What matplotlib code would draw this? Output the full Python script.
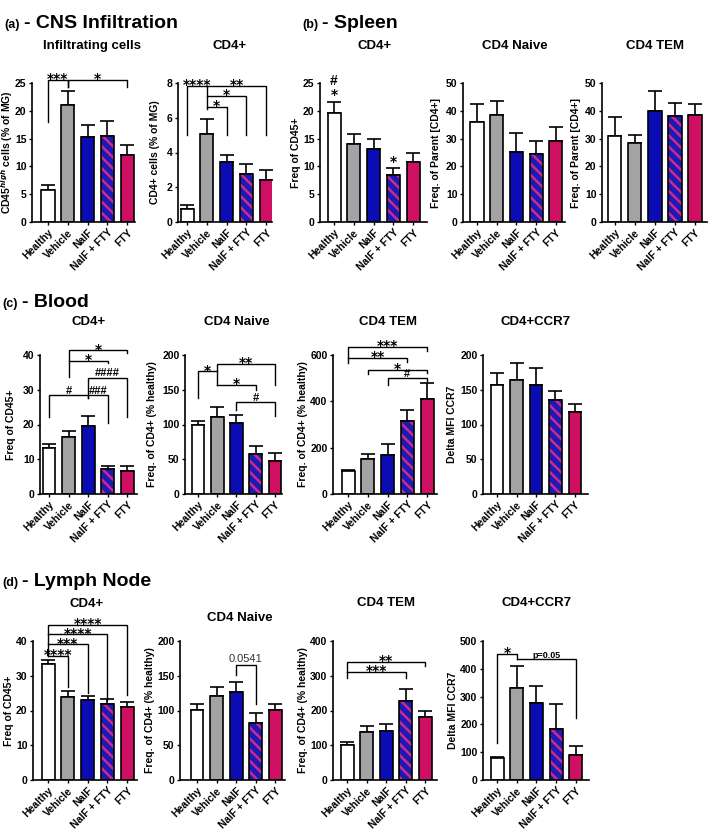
import numpy as np
import matplotlib
matplotlib.use("Agg")
import matplotlib.pyplot as plt

plt.rcParams['font.family'] = ['Liberation Sans', 'DejaVu Sans']
plt.rcParams['font.weight'] = 'bold'
plt.rcParams['axes.labelweight'] = 'bold'
plt.rcParams['mathtext.fontset'] = 'custom'
plt.rcParams['mathtext.rm'] = 'Liberation Sans:bold'
plt.rcParams['mathtext.bf'] = 'Liberation Sans:bold'
plt.rcParams['hatch.linewidth'] = 1.8

groups = ["Healthy", "Vehicle", "NaIF", "NaIF + FTY", "FTY"]
bar_colors = ["white", "#a3a3a6", "#0c0cb4", "#1a1ab4", "#cf0f62"]
stripe_color = "#d0288c"

# (a) CNS infiltration
cns_infil_mean = [5.8, 21.1, 15.3, 15.4, 12.1]
cns_infil_sem = [0.9, 2.4, 2.2, 2.8, 1.8]
cns_cd4_mean = [0.75, 5.05, 3.45, 2.75, 2.42]
cns_cd4_sem = [0.25, 0.9, 0.4, 0.6, 0.58]

# (b) spleen
spl_cd4_mean = [19.6, 14.0, 13.2, 8.4, 10.8]
spl_cd4_sem = [1.9, 1.8, 1.7, 1.4, 1.7]
spl_naive_mean = [35.9, 38.6, 25.1, 24.5, 29.3]
spl_naive_sem = [6.6, 4.8, 6.8, 4.8, 4.8]
spl_tem_mean = [30.8, 28.5, 39.8, 38.2, 38.6]
spl_tem_sem = [6.8, 2.9, 7.2, 4.6, 3.8]

# (c) blood
bl_cd4_mean = [13.1, 16.4, 19.5, 7.3, 6.6]
bl_cd4_sem = [1.4, 1.6, 3.0, 0.9, 1.6]
bl_naive_mean = [99.8, 110.8, 102.2, 58.0, 48.0]
bl_naive_sem = [4.8, 13.9, 11.0, 10.6, 11.0]
bl_tem_mean = [97.6, 152, 168, 317, 412]
bl_tem_sem = [7, 20, 47, 46, 66]
bl_ccr7_mean = [157.3, 164.5, 157.3, 134.8, 118.0]
bl_ccr7_sem = [16.7, 24.0, 24.0, 13.9, 11.5]

# (d) lymph node
ln_cd4_mean = [33.4, 24.0, 23.0, 21.8, 21.1]
ln_cd4_sem = [1.1, 1.7, 1.3, 1.4, 1.4]
ln_naive_mean = [100.7, 120.9, 127.1, 82.5, 100.7]
ln_naive_sem = [8.7, 13.4, 13.9, 14.4, 8.1]
ln_tem_mean = [100, 137, 141, 228.6, 181]
ln_tem_sem = [9.5, 19, 21, 33.4, 19]
ln_ccr7_mean = [78, 330, 276, 182, 90]
ln_ccr7_sem = [6, 81.5, 63, 91, 34]

# significance brackets: (group1, group2, level, leg1 end, leg2 end, label)
cns_infil_sig = [(0, 1, 25.6, 18.0, 24.3, '***'), (1, 4, 25.6, 24.3, 24.3, '*')]
cns_cd4_sig = [(0, 1, 7.85, 5.0, 7.85, '****'), (1, 4, 7.85, 6.5, 5.0, '**'),
               (1, 3, 7.24, 7.24, 5.0, '*'), (1, 2, 6.62, 6.62, 5.0, '*')]
spl_cd4_marks = [(0, 24.4, '#'), (0, 22.7, '*'), (3, 10.6, '*')]
bl_cd4_sig = [(1, 4, 41.3, 33.6, 40.7, '*'), (1, 3, 38.3, 38.3, 37.6, '*'),
              (2, 4, 33.5, 27.5, 22.3, '####'), (2, 3, 28.4, 28.4, 20.4, '###'),
              (0, 2, 28.4, 22.3, 27.5, '#')]
bl_naive_sig = [(0, 1, 176.5, 137.6, 176.5, '*'), (1, 4, 187.5, 157.3, 157.3, '**'),
                (1, 3, 157.3, 157.3, 150, '*'), (2, 4, 131.9, 121.3, 111.7, '#')]
bl_tem_sig = [(0, 4, 636, 564, 619, '***'), (0, 3, 586, 586, 571, '**'),
              (1, 4, 535, 518, 524, '*'), (2, 4, 502, 471, 488, '#')]
ln_cd4_sig = [(0, 4, 44.6, 35.7, 24.5, '****'), (0, 3, 41.9, 41.9, 23.0, '****'),
              (0, 2, 39.0, 39.0, 24.9, '***'), (0, 1, 35.7, 35.7, 26.7, '****')]
ln_naive_sig = [(2, 3, 165.5, 151, 110, '0.0541')]
ln_tem_sig = [(0, 4, 341, 293, 328.6, '**'), (0, 3, 312, 312, 293, '***')]
ln_ccr7_sig = [(0, 1, 453, 132, 434, '*'), (1, 4, 434, 434, 222, 'p=0.05')]

W, H = 709, 836
fig = plt.figure(figsize=(W / 100, H / 100), dpi=100)

# panel: mean, sem, yticks, ylabel, title,
# (spine x, end x, top y, zero y, title x, title y, ylabel x) in pixels, xlim, sig, marks
panels = [
    (cns_infil_mean, cns_infil_sem, [0, 5, 10, 15, 20, 25], r"CD45$^{high}$ cells (% of MG)",
     "Infiltrating cells", (32, 135, 83, 222, 92, 46, 7), (-0.81, 4.4), cns_infil_sig, []),
    (cns_cd4_mean, cns_cd4_sem, [0, 2, 4, 6, 8], "CD4+ cells (% of MG)",
     "CD4+", (178, 272, 83, 222, 230, 46, 155), (-0.46, 4.3), cns_cd4_sig, []),
    (spl_cd4_mean, spl_cd4_sem, [0, 5, 10, 15, 20, 25], "Freq of CD45+",
     "CD4+", (320, 427, 83, 222, 375, 46, 296), (-0.71, 4.7), [], spl_cd4_marks),
    (spl_naive_mean, spl_naive_sem, [0, 10, 20, 30, 40, 50], "Freq. of Parent [CD4+]",
     "CD4 Naive", (463, 565, 83, 222, 515, 46, 436), (-0.71, 4.46), [], []),
    (spl_tem_mean, spl_tem_sem, [0, 10, 20, 30, 40, 50], "Freq. of Parent [CD4+]",
     "CD4 TEM", (602, 707, 83, 222, 655, 46, 576), (-0.64, 4.6), [], []),
    (bl_cd4_mean, bl_cd4_sem, [0, 10, 20, 30, 40], "Freq of CD45+",
     "CD4+", (40, 137, 355, 494, 89, 322, 11), (-0.46, 4.5), bl_cd4_sig, []),
    (bl_naive_mean, bl_naive_sem, [0, 50, 100, 150, 200], "Freq. of CD4+ (% healthy)",
     "CD4 Naive", (185, 282, 355, 494, 237, 322, 152), (-0.67, 4.36), bl_naive_sig, []),
    (bl_tem_mean, bl_tem_sem, [0, 200, 400, 600], "Freq. of CD4+ (% healthy)",
     "CD4 TEM", (333, 437, 355, 494, 388, 322, 303), (-0.76, 4.5), bl_tem_sig, []),
    (bl_ccr7_mean, bl_ccr7_sem, [0, 50, 100, 150, 200], "Delta MFI CCR7",
     "CD4+CCR7", (483, 588, 355, 494, 536, 322, 452), (-0.72, 4.67), [], []),
    (ln_cd4_mean, ln_cd4_sem, [0, 10, 20, 30, 40], "Freq of CD45+",
     "CD4+", (33, 137, 641, 780, 87, 604, 9), (-0.76, 4.5), ln_cd4_sig, []),
    (ln_naive_mean, ln_naive_sem, [0, 50, 100, 150, 200], "Freq. of CD4+ (% healthy)",
     "CD4 Naive", (180, 285, 641, 780, 240, 618, 150), (-0.87, 4.5), ln_naive_sig, []),
    (ln_tem_mean, ln_tem_sem, [0, 100, 200, 300, 400], "Freq. of CD4+ (% healthy)",
     "CD4 TEM", (333, 437, 641, 780, 386, 603, 303), (-0.72, 4.6), ln_tem_sig, []),
    (ln_ccr7_mean, ln_ccr7_sem, [0, 100, 200, 300, 400, 500], "Delta MFI CCR7",
     "CD4+CCR7", (483, 589, 641, 780, 537, 603, 453), (-0.71, 4.66), ln_ccr7_sig, []),
]


def put_label(ax, x, y, s, big=False):
    if '*' in s:
        kw = dict(fontsize=10, fontweight='bold', color='black', family='DejaVu Sans'); off = -2.3
    elif '#' in s:
        kw = dict(fontsize=10 if big else 8, fontweight='bold', color='black'); off = 0.8
    elif s.startswith('p='):
        kw = dict(fontsize=6.5, fontweight='bold', color='black'); off = 0.8
    else:
        kw = dict(fontsize=8, fontweight='normal', color='#333333'); off = 2.4
    ax.annotate(s, (x, y), xytext=(0, off), textcoords='offset points',
                ha='center', va='baseline', annotation_clip=False, **kw)


x = np.arange(len(groups))
for mean, sem, yticks, ylabel, title, box, xlim, sig, marks in panels:
    x0, x1, ytop, ybot, tx, ty, lx = box
    ax = fig.add_axes([x0 / W, 1 - ybot / H, (x1 - x0) / W, (ybot - ytop) / H])
    for i in range(len(groups)):
        if i == 3:
            ax.bar(i, mean[i], width=0.66, color=bar_colors[i], edgecolor=stripe_color,
                   hatch='\\\\\\', linewidth=0, zorder=2)
            ax.bar(i, mean[i], width=0.66, fill=False, edgecolor='black', linewidth=1.2, zorder=3)
        else:
            ax.bar(i, mean[i], width=0.66, color=bar_colors[i], edgecolor='black',
                   linewidth=1.2, zorder=2)
    ax.errorbar(x, mean, yerr=[np.zeros(len(sem)), sem], fmt='none', ecolor='black',
                elinewidth=1.2, capsize=5, capthick=1.2, zorder=1)
    ax.set_xlim(*xlim)
    ax.set_ylim(yticks[0], yticks[-1])
    ax.set_yticks(yticks)
    ax.set_xticks(x)
    ax.set_xticklabels(groups, rotation=45, ha='right', rotation_mode='anchor', fontsize=7.5)
    for t in ax.get_yticklabels():
        t.set_fontsize(7.5)
    ax.tick_params(direction='out', length=2.5, width=1.0, pad=1.5)
    for side in ['top', 'right']:
        ax.spines[side].set_visible(False)
    for side in ['left', 'bottom']:
        ax.spines[side].set_linewidth(1.2)
    ax.set_ylabel(ylabel, fontsize=7.5, va='center')
    ax.yaxis.set_label_coords((lx - x0) / (x1 - x0), 0.5)
    fig.text(tx / W, 1 - ty / H, title, ha='center', va='center', fontsize=9.5, fontweight='bold')

    for g1, g2, lev, e1, e2, s in sig:
        ax.plot([g1, g1, g2, g2], [e1, lev, lev, e2], color='black', lw=1.0,
                clip_on=False, solid_joinstyle='miter', zorder=4)
        put_label(ax, (g1 + g2) / 2, lev, s)
    for g, lev, s in marks:
        put_label(ax, g, lev, s, big=True)

# row headings
for px, py, small, big in [(4, 28, "(a)", "- CNS Infiltration"), (302, 28, "(b)", "- Spleen"),
                           (2, 307, "(c)", "- Blood"), (2, 586, "(d)", "- Lymph Node")]:
    fig.text(px / W, 1 - py / H, small, fontsize=9, fontweight='bold', va='baseline')
    fig.text((px + 20) / W, 1 - py / H, big, fontsize=14, fontweight='bold', va='baseline')

fig.savefig("out.png", dpi=100)
